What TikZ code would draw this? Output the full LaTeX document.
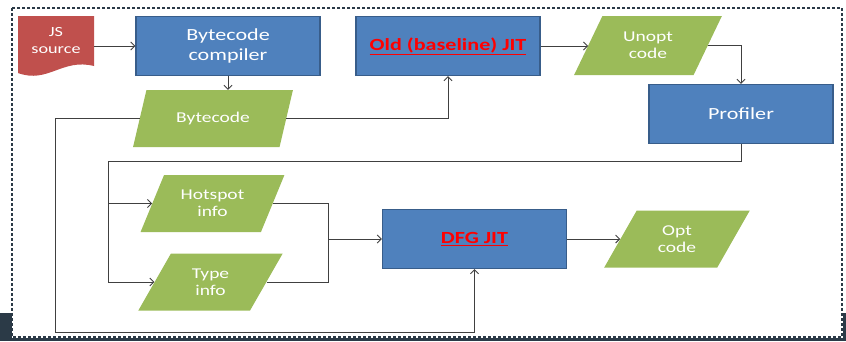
\documentclass[tikz,border=0pt]{standalone}
\usepackage{fontspec}
\setmainfont{Carlito}
\setsansfont{Carlito}[FakeStretch=1.3]
\usetikzlibrary{arrows.meta,shapes.geometric}
\definecolor{boxblue}{HTML}{4F81BD}
\definecolor{boxedge}{HTML}{385D8A}
\definecolor{codegreen}{HTML}{9BBB59}
\definecolor{srcred}{HTML}{C0504D}
\definecolor{wire}{HTML}{404040}
\definecolor{slide}{HTML}{2B3A47}
\tikzset{
  treenode/.style = {align=center, inner sep=0pt, text centered,
    font=\sffamily\fontsize{15}{17}\selectfont},
  stage/.style = {treenode, rectangle, draw=boxedge, line width=1.4pt,
    fill=boxblue, text=white, minimum width=184pt, minimum height=59pt,
    font=\sffamily\fontsize{17}{20}\selectfont},% compiler stage
  jitstage/.style = {stage, text=red,
    font=\sffamily\bfseries\fontsize{17}{20}\selectfont},% stage named in red
  para/.style = {treenode, trapezium, trapezium left angle=60,
    trapezium right angle=120, trapezium stretches=true, fill=codegreen,
    text=white, minimum width=146pt, minimum height=57pt},% code / data
  srcdoc/.style = {treenode, text=white, minimum width=76pt,
    font=\sffamily\fontsize{14}{17}\selectfont},
  wire/.style = {draw=wire, line width=0.9pt}
}
\begin{document}
\begin{tikzpicture}[x=1pt,y=-1pt,>={Straight Barb[length=4pt,width=8pt]}]
\useasboundingbox (0,0) rectangle (846,341);
% slide background showing at the edges
\fill[slide] (0,313) rectangle (12,341);
\fill[slide] (0,338) rectangle (846,341);
\fill[slide] (843,313) rectangle (846,341);
\draw[slide, line width=1.2pt, dash pattern=on 3pt off 2pt] (12,8) rectangle (842,337);
% JS source document
\fill[srcred] (18,16) -- (94,16) -- (94,66)
  .. controls (62,58) and (48,84) .. (18,73) -- cycle;
\node [srcdoc] (js) at (56,41) {JS\\source};
% stages
\node [stage] (bc) at (228,46) {Bytecode\\compiler};
\node [jitstage] (old) at (448,46) {\underline{Old (baseline) JIT}};
\node [stage] (prof) at (741,114) {Profiler};
\node [jitstage] (dfg) at (474.5,239) {\underline{DFG JIT}};
% produced code and profile data
\node [para, minimum width=160pt] (bytecode) at (213,118.5) {Bytecode};
\node [para, minimum width=148pt, minimum height=59pt] (unopt) at (648,45.5) {Unopt\\code};
\node [para, minimum width=145pt] (hot) at (212.5,203.5) {Hotspot\\info};
\node [para, minimum width=145pt] (type) at (210.5,282) {Type\\info};
\node [para] (opt) at (677,239) {Opt\\code};
% helper corners
\coordinate (loopL) at (55,332);
\coordinate (fbL) at (108,161);
\coordinate (mg) at (328,239);
% connectors
\draw [wire, <-] (bc.west) -- (bc.west -| js.east);
\draw [wire, ->] (bc.south) -- (bc.south |- bytecode.north);
\draw [wire, ->] (bytecode.east) -| (old.south);
\draw [wire, ->] (bytecode.west) -| (loopL) -| (dfg.south);
\draw [wire, ->] (old.east) -- (old.east -| unopt.west);
\draw [wire, ->] (unopt.east) -| (prof.north);
\draw [wire] (prof.south) |- (fbL) -- (fbL |- type.west);
\draw [wire, ->] (fbL |- hot.west) -- (hot.west);
\draw [wire, ->] (fbL |- type.west) -- (type.west);
\draw [wire] (hot.east) -| (mg);
\draw [wire] (type.east) -| (mg);
\draw [wire, ->] (mg) -- (dfg.west);
\draw [wire, ->] (dfg.east) -- (dfg.east -| opt.west);
\end{tikzpicture}
\end{document}
